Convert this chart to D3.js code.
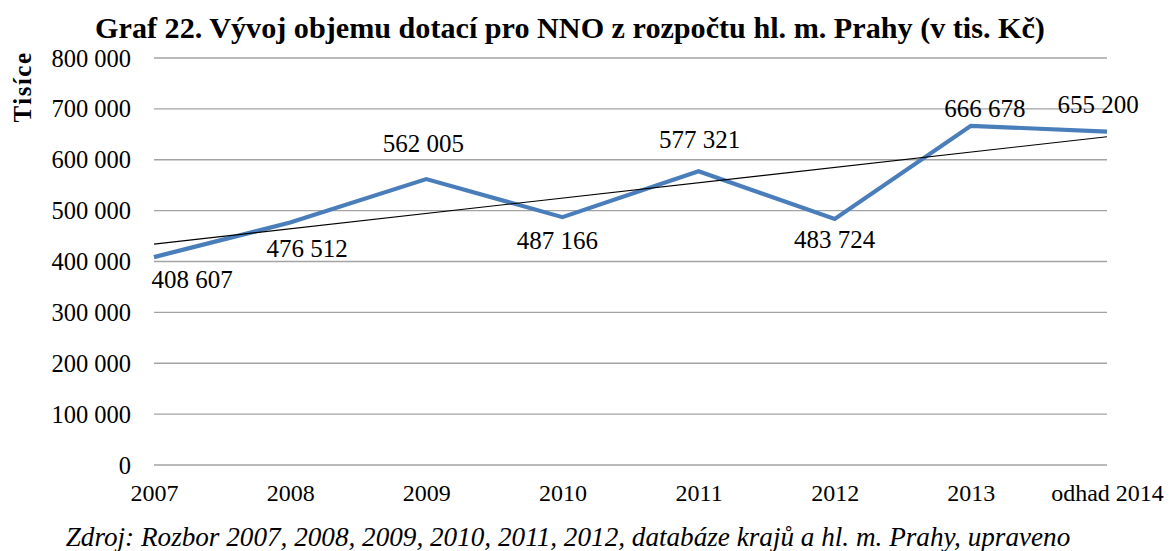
<!DOCTYPE html>
<html><head><meta charset="utf-8">
<script src="https://cdn.jsdelivr.net/npm/d3@7"></script>
<style>
html,body{margin:0;padding:0;background:#fff;}
svg{display:block;}
text{font-family:"Liberation Serif","DejaVu Serif",serif;fill:#000;}
</style></head>
<body>
<svg id="chart" width="1170" height="551"></svg>
<script>
// ---- data ----
const categories = ["2007","2008","2009","2010","2011","2012","2013","odhad 2014"];
const values = [408607, 476512, 562005, 487166, 577321, 483724, 666678, 655200];
const yTicks = [0, 100000, 200000, 300000, 400000, 500000, 600000, 700000, 800000];
const labelPlacement = ["below","below","above","below","above","below","above","above"];
const titleText = "Graf 22. Vývoj objemu dotací pro NNO z rozpočtu hl. m. Prahy (v tis. Kč)";
const yAxisTitle = "Tisíce";
const sourceText = "Zdroj: Rozbor 2007, 2008, 2009, 2010, 2011, 2012, databáze krajů a hl. m. Prahy, upraveno";

// ---- layout ----
const W = 1170, H = 551;
const plot = {left: 154, right: 1107, top: 58, bottom: 465};
const svg = d3.select("#chart");
const loc = d3.formatLocale({decimal: ",", thousands: " ", grouping: [3], currency: ["", ""]});
const fmt = loc.format(",d");

const x = d3.scalePoint().domain(categories).range([plot.left, plot.right]);
const y = d3.scaleLinear().domain([0, 800000]).range([plot.bottom, plot.top]);

// gridlines
svg.append("g").selectAll("line").data(yTicks).join("line")
  .attr("x1", plot.left).attr("x2", plot.right)
  .attr("y1", d => y(d)).attr("y2", d => y(d))
  .attr("stroke", "#a3a3a3").attr("stroke-width", 1.3);

// y axis labels
const yAxis = d3.axisLeft(y).tickValues(yTicks).tickFormat(d => fmt(d)).tickSize(0).tickPadding(0);
const yg = svg.append("g").attr("transform", `translate(131,0)`).call(yAxis);
yg.select(".domain").remove();
yg.selectAll("text").attr("font-family", "Liberation Serif, serif").attr("font-size", 24.5).attr("fill", "#000").attr("dy", "0.33em");

// x axis labels
const xAxis = d3.axisBottom(x).tickSize(0).tickPadding(0);
const xg = svg.append("g").attr("transform", `translate(0,484)`).call(xAxis);
xg.select(".domain").remove();
xg.selectAll("text").attr("font-family", "Liberation Serif, serif").attr("font-size", 24).attr("fill", "#000").attr("dy", "0.71em");

// data line
const line = d3.line().x((d, i) => x(categories[i])).y(d => y(d));
svg.append("path").datum(values).attr("d", line)
  .attr("fill", "none").attr("stroke", "#4a7ebb").attr("stroke-width", 4.2)
  .attr("stroke-linejoin", "miter");

// linear trendline (least squares over the series)
const n = values.length;
const mx = d3.mean(values, (d, i) => i), my = d3.mean(values);
const slope = d3.sum(values, (d, i) => (i - mx) * (d - my)) / d3.sum(values, (d, i) => (i - mx) ** 2);
const icpt = my - slope * mx;
svg.append("line")
  .attr("x1", x(categories[0])).attr("y1", y(icpt))
  .attr("x2", x(categories[n - 1])).attr("y2", y(icpt + slope * (n - 1)))
  .attr("stroke", "#000").attr("stroke-width", 1.1);

// data labels
const nudge = [{dx: 38, dy: 0}, {dx: 17, dy: 3}, {dx: -3, dy: -3}, {dx: -5, dy: 1}, {dx: 1, dy: 1}, {dx: 0, dy: -2}, {dx: 14, dy: 15}, {dx: -9, dy: 5}];
svg.append("g").selectAll("text").data(values).join("text")
  .attr("x", (d, i) => x(categories[i]) + nudge[i].dx)
  .attr("y", (d, i) => y(d) + (labelPlacement[i] === "above" ? -24 : 31) + nudge[i].dy)
  .attr("text-anchor", "middle").attr("font-size", 25)
  .text(d => fmt(d));

// title
function fitText(sel, targetW) {
  const w = sel.node().getComputedTextLength();
  const fs = parseFloat(sel.attr("font-size"));
  sel.attr("font-size", fs * targetW / w);
}
const t = svg.append("text").attr("x", 570).attr("y", 38).attr("text-anchor", "middle")
  .attr("font-weight", "bold").attr("font-size", 27).text(titleText);
fitText(t, 950);

// y title
svg.append("text").attr("transform", "translate(31,87) rotate(-90)")
  .attr("text-anchor", "middle").attr("font-weight", "bold").attr("font-size", 25)
  .attr("letter-spacing", 1.5).text(yAxisTitle);

// source
const s = svg.append("text").attr("x", 568).attr("y", 546).attr("text-anchor", "middle")
  .attr("font-style", "italic").attr("font-size", 24).text(sourceText);
fitText(s, 1005);
</script>
</body></html>
